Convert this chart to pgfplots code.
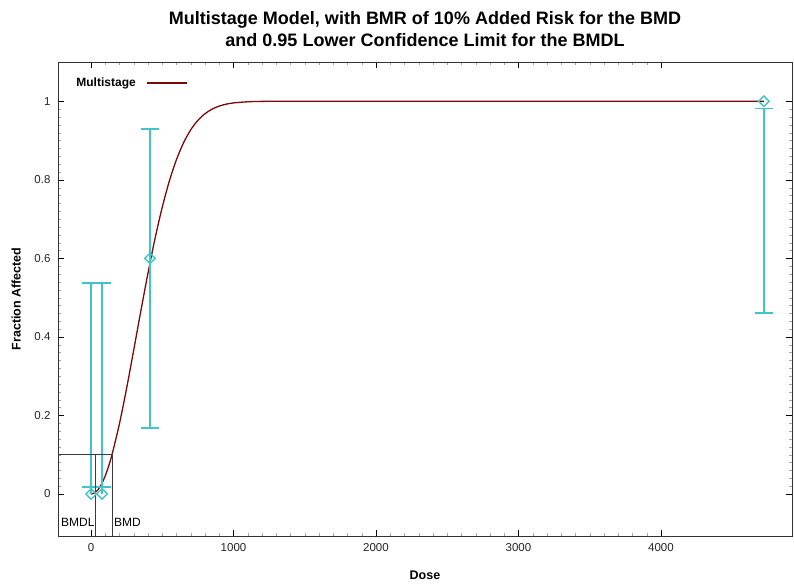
\documentclass[border=0pt]{standalone}
\usepackage{pgfplots}
\pgfplotsset{compat=1.18}
\usepackage{fontspec}
\setmainfont{Liberation Sans}
\definecolor{curvered}{RGB}{120,10,10}
\definecolor{barcyan}{RGB}{64,196,200}
\definecolor{bmdgray}{RGB}{60,60,60}

\begin{document}
\begin{tikzpicture}
\begin{axis}[
  name=ax,
  scale only axis,
  width=734pt, height=474pt,
  xmin=-232, xmax=4920,
  ymin=-0.107, ymax=1.10,
  xtick={0,1000,2000,3000,4000},
  ytick={0,0.2,0.4,0.6,0.8,1},
  yticklabels={0,0.2,0.4,0.6,0.8,1},
  minor x tick num=9,
  minor y tick num=9,
  tick align=inside,
  major tick length=6pt,
  minor tick length=3pt,
  every major tick/.style={black},
  every minor tick/.style={gray!70},
  axis line style={black!80},
  /pgf/number format/assume math mode=true,
  /pgf/number format/set thousands separator={},
  tick label style={font=\fontsize{11.5}{14}\selectfont, black!85},
  xticklabel style={yshift=-4pt},
  yticklabel style={xshift=-4pt},
  title={\bfseries Multistage Model, with BMR of 10\% Added Risk for the BMD\\\bfseries and 0.95 Lower Confidence Limit for the BMDL},
  title style={font=\fontsize{18}{22}\selectfont, align=center, at={(0.5,1)}, anchor=south, yshift=6pt},
  xlabel={\bfseries Dose},
  ylabel={\bfseries Fraction Affected},
  label style={font=\fontsize{12.5}{14}\selectfont},
  xlabel style={at={(0.5,0)}, anchor=base, yshift=-44pt},
  ylabel style={at={(axis description cs:-0.057,0.5)}, anchor=center, rotate=0},
  legend style={at={(0.018,0.975)}, anchor=north west, draw=none, fill=none,
    font=\fontsize{12}{14}\selectfont\bfseries},
  legend plot pos=right,
  legend image code/.code={\path[draw=none] (0pt,0pt) -- (1pt,0pt);
    \draw[curvered, line width=1.3pt] (9pt,0pt) -- (49pt,0pt);},
  clip=false,
  unbounded coords=jump,
]
% fitted curve
\addplot[curvered, line width=1.3pt, no marks, smooth] coordinates {
  (0,0) (25,0.0027) (50,0.0114) (75,0.0260) (100,0.0465) (125,0.0727)
  (150,0.1041) (200,0.1801) (250,0.2699) (300,0.3675) (350,0.4669)
  (400,0.5633) (450,0.6521) (500,0.7306) (550,0.7974) (600,0.8519)
  (650,0.8948) (700,0.9275) (750,0.9514) (800,0.9684) (850,0.9800)
  (900,0.9878) (950,0.9927) (1000,0.9958) (1100,0.9987) (1200,0.9997)
  (1400,1.0) (2000,1.0) (3000,1.0) (4000,1.0) (4723,1.0)
};
\addlegendentry{Multistage}
% confidence limits: vertical bars
\addplot[barcyan, line width=1.6pt, forget plot] coordinates {
  (0,0) (0,0.537) (nan,nan)
  (77,0) (77,0.537) (nan,nan)
  (414,0.168) (414,0.929) (nan,nan)
  (4723,0.461) (4723,0.982)
};
% confidence limits: caps
\addplot[barcyan, line width=1.6pt, forget plot] coordinates {
  (-63,0.537) (63,0.537) (nan,nan)
  (14,0.537) (140,0.537) (nan,nan)
  (-63,0.017) (63,0.017) (nan,nan)
  (14,0.017) (140,0.017) (nan,nan)
  (351,0.929) (477,0.929) (nan,nan)
  (351,0.168) (477,0.168) (nan,nan)
  (4660,0.982) (4786,0.982) (nan,nan)
  (4660,0.461) (4786,0.461)
};
% observed fractions
\addplot[barcyan, only marks, mark=square, mark size=3.7pt,
  mark options={rotate=45, line width=1.4pt, fill=white}, forget plot] coordinates {
  (0,0) (77,0) (414,0.6) (4723,1.0)
};
% BMD / BMDL markers
\addplot[bmdgray, line width=0.8pt, forget plot] coordinates {(-232,0.1) (147,0.1)};
\addplot[bmdgray, line width=0.8pt, forget plot] coordinates {(147,0.1) (147,-0.107)};
\addplot[bmdgray, line width=0.8pt, forget plot] coordinates {(33,0.1) (33,-0.107)};
\node[anchor=east, font=\fontsize{12}{14}\selectfont, inner sep=1pt] at (axis cs:33,-0.072) {BMDL};
\node[anchor=west, font=\fontsize{12}{14}\selectfont, inner sep=2pt] at (axis cs:147,-0.072) {BMD};
\end{axis}
\path ([xshift=-58pt,yshift=-46pt]ax.south west) rectangle ([xshift=2pt,yshift=62pt]ax.north east);
\end{tikzpicture}
\end{document}
